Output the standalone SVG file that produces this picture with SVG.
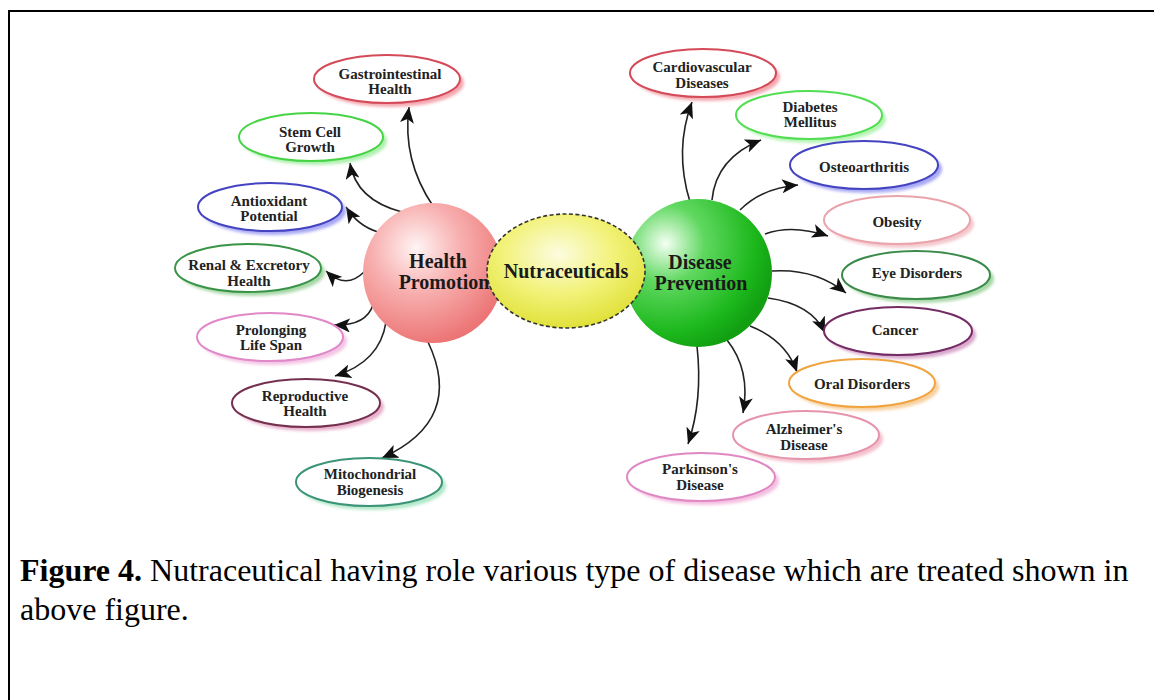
<svg xmlns="http://www.w3.org/2000/svg" width="1154" height="700" viewBox="0 0 1154 700">
<defs>
<style>
.nt{font-family:"Liberation Serif","Times New Roman",serif;font-weight:bold;font-size:15px;fill:#222;text-anchor:middle}
.ct{font-family:"Liberation Serif","Times New Roman",serif;font-weight:bold;font-size:20px;fill:#1a1a1a;text-anchor:middle}
.cap{font-family:"Liberation Serif","Times New Roman",serif;font-size:32px;fill:#000}
.e{fill:#fff;stroke-width:2}
.sh{filter:url(#blur)}
.c{fill:none;stroke:#222;stroke-width:1.6;marker-end:url(#ah)}
</style>
<filter id="blur" x="-20%" y="-20%" width="140%" height="140%"><feGaussianBlur stdDeviation="1.8"/></filter>
<marker id="ah" markerUnits="userSpaceOnUse" markerWidth="18" markerHeight="14" refX="16" refY="7" orient="auto"><path d="M0,0 L16,7 L0,14 L4,7 Z" fill="#111"/></marker>
<radialGradient id="gp" cx="0.38" cy="0.32" r="0.7"><stop offset="0" stop-color="#fff4f4"/><stop offset="0.45" stop-color="#f8b0b0"/><stop offset="1" stop-color="#ec7474"/></radialGradient>
<radialGradient id="gy" cx="0.45" cy="0.35" r="0.7"><stop offset="0" stop-color="#fcfce0"/><stop offset="0.5" stop-color="#f2f27a"/><stop offset="1" stop-color="#dede30"/></radialGradient>
<radialGradient id="gg" cx="0.28" cy="0.3" r="0.75"><stop offset="0" stop-color="#f4fff4"/><stop offset="0.35" stop-color="#60d860"/><stop offset="0.8" stop-color="#1cb81c"/><stop offset="1" stop-color="#12a012"/></radialGradient>
</defs>
<rect width="1154" height="700" fill="#fff"/>
<path d="M9,700 L9,11 L1154,11" fill="none" stroke="#000" stroke-width="2"/>

<g id="connectors">
<path class="c" d="M433,206 Q402,160 409,107"/>
<path class="c" d="M402,212 Q356,200 350,163"/>
<path class="c" d="M378,232 Q358,226 346,207"/>
<path class="c" d="M364,272 Q346,290 326,271"/>
<path class="c" d="M373,305 Q366,326 334,325"/>
<path class="c" d="M386,322 Q380,362 335,376"/>
<path class="c" d="M428,342 Q465,420 382,458"/>
<path class="c" d="M690,202 Q674,150 692,102"/>
<path class="c" d="M712,200 Q716,158 761,140"/>
<path class="c" d="M740,210 Q762,188 798,185"/>
<path class="c" d="M765,234 Q792,224 828,236"/>
<path class="c" d="M772,271 Q815,268 846,293"/>
<path class="c" d="M768,298 Q812,304 825,333"/>
<path class="c" d="M750,326 Q786,340 797,372"/>
<path class="c" d="M727,340 Q751,370 743,413"/>
<path class="c" d="M697,346 Q703,400 688,444"/>
</g>

<g id="health-promotion">
<circle cx="433" cy="273" r="70" fill="url(#gp)"/>
</g>
<g id="disease-prevention">
<circle cx="698" cy="273" r="74" fill="url(#gg)"/>
</g>
<g id="nutraceuticals">
<ellipse cx="566" cy="271" rx="79" ry="57" fill="url(#gy)" stroke="#333" stroke-width="1.6" stroke-dasharray="4,2.5"/>
<text class="ct" x="566" y="278">Nutraceuticals</text>
</g>
<g id="health-promotion-label">
<text class="ct" x="438" y="268">Health</text>
<text class="ct" x="444" y="289">Promotion</text>
</g>
<g id="disease-prevention-label">
<text class="ct" x="700" y="269">Disease</text>
<text class="ct" x="701" y="290">Prevention</text>
</g>

<g id="gastrointestinal">
<ellipse class="sh" cx="391" cy="83" rx="73" ry="24" fill="#f4a8b0"/>
<ellipse class="e" cx="387" cy="79" rx="73" ry="24" stroke="#d44a58"/>
<text class="nt" x="390" y="79">Gastrointestinal</text><text class="nt" x="390" y="94">Health</text>
</g>
<g id="stem-cell">
<ellipse class="sh" cx="315" cy="141" rx="72" ry="24" fill="#b0f0b0"/>
<ellipse class="e" cx="311" cy="137" rx="72" ry="24" stroke="#46d446"/>
<text class="nt" x="310" y="137">Stem Cell</text><text class="nt" x="310" y="152">Growth</text>
</g>
<g id="antioxidant">
<ellipse class="sh" cx="274" cy="211" rx="72" ry="24" fill="#a8a8f4"/>
<ellipse class="e" cx="270" cy="207" rx="72" ry="24" stroke="#4444c0"/>
<text class="nt" x="269" y="206">Antioxidant</text><text class="nt" x="269" y="221">Potential</text>
</g>
<g id="renal">
<ellipse class="sh" cx="252" cy="272" rx="73" ry="24" fill="#a8d8a8"/>
<ellipse class="e" cx="248" cy="268" rx="73" ry="24" stroke="#3a9448"/>
<text class="nt" x="249" y="270">Renal &amp; Excretory</text><text class="nt" x="249" y="286">Health</text>
</g>
<g id="prolonging">
<ellipse class="sh" cx="274" cy="341" rx="73" ry="24" fill="#f4c4e4"/>
<ellipse class="e" cx="270" cy="337" rx="73" ry="24" stroke="#e088c8"/>
<text class="nt" x="271" y="335">Prolonging</text><text class="nt" x="271" y="350">Life Span</text>
</g>
<g id="reproductive">
<ellipse class="sh" cx="310" cy="407" rx="74" ry="24" fill="#e8b0cc"/>
<ellipse class="e" cx="306" cy="403" rx="74" ry="24" stroke="#74304e"/>
<text class="nt" x="305" y="401">Reproductive</text><text class="nt" x="305" y="416">Health</text>
</g>
<g id="mitochondrial">
<ellipse class="sh" cx="373" cy="486" rx="73" ry="24" fill="#b0e8c8"/>
<ellipse class="e" cx="369" cy="482" rx="73" ry="24" stroke="#3c9478"/>
<text class="nt" x="370" y="479">Mitochondrial</text><text class="nt" x="370" y="495">Biogenesis</text>
</g>

<g id="cardiovascular">
<ellipse class="sh" cx="707" cy="77" rx="73" ry="24" fill="#f4a8b0"/>
<ellipse class="e" cx="703" cy="73" rx="73" ry="24" stroke="#d44a58"/>
<text class="nt" x="702" y="72">Cardiovascular</text><text class="nt" x="702" y="88">Diseases</text>
</g>
<g id="diabetes">
<ellipse class="sh" cx="813" cy="119" rx="73" ry="24" fill="#b4f4b4"/>
<ellipse class="e" cx="809" cy="115" rx="73" ry="24" stroke="#52de52"/>
<text class="nt" x="810" y="112">Diabetes</text><text class="nt" x="810" y="127">Mellitus</text>
</g>
<g id="osteoarthritis">
<ellipse class="sh" cx="868" cy="169" rx="74" ry="24" fill="#a8a8f4"/>
<ellipse class="e" cx="864" cy="165" rx="74" ry="24" stroke="#4444c0"/>
<text class="nt" x="864" y="172">Osteoarthritis</text>
</g>
<g id="obesity">
<ellipse class="sh" cx="901" cy="224" rx="73" ry="24" fill="#f4c8cc"/>
<ellipse class="e" cx="897" cy="220" rx="73" ry="24" stroke="#eaa4ac"/>
<text class="nt" x="897" y="227">Obesity</text>
</g>
<g id="eye-disorders">
<ellipse class="sh" cx="920" cy="279" rx="74" ry="24" fill="#a8d8a8"/>
<ellipse class="e" cx="916" cy="275" rx="74" ry="24" stroke="#3a8a4a"/>
<text class="nt" x="917" y="278">Eye Disorders</text>
</g>
<g id="cancer">
<ellipse class="sh" cx="902" cy="335" rx="74" ry="24" fill="#d8a8cc"/>
<ellipse class="e" cx="898" cy="331" rx="74" ry="24" stroke="#742c64"/>
<text class="nt" x="895" y="335">Cancer</text>
</g>
<g id="oral-disorders">
<ellipse class="sh" cx="866" cy="387" rx="73" ry="24" fill="#f8d0a0"/>
<ellipse class="e" cx="862" cy="383" rx="73" ry="24" stroke="#f0a440"/>
<text class="nt" x="862" y="389">Oral Disorders</text>
</g>
<g id="alzheimers">
<ellipse class="sh" cx="810" cy="439" rx="73" ry="24" fill="#f4c0cc"/>
<ellipse class="e" cx="806" cy="435" rx="73" ry="24" stroke="#e694ac"/>
<text class="nt" x="804" y="434">Alzheimer's</text><text class="nt" x="804" y="450">Disease</text>
</g>
<g id="parkinsons">
<ellipse class="sh" cx="705" cy="481" rx="74" ry="24" fill="#f4c0e0"/>
<ellipse class="e" cx="701" cy="477" rx="74" ry="24" stroke="#e088c4"/>
<text class="nt" x="700" y="474">Parkinson's</text><text class="nt" x="700" y="490">Disease</text>
</g>

<g id="caption">
<text class="cap" x="20" y="581"><tspan font-weight="bold">Figure 4.</tspan> Nutraceutical having role various type of disease which are treated shown in</text>
<text class="cap" x="20" y="620">above figure.</text>
</g>
</svg>
